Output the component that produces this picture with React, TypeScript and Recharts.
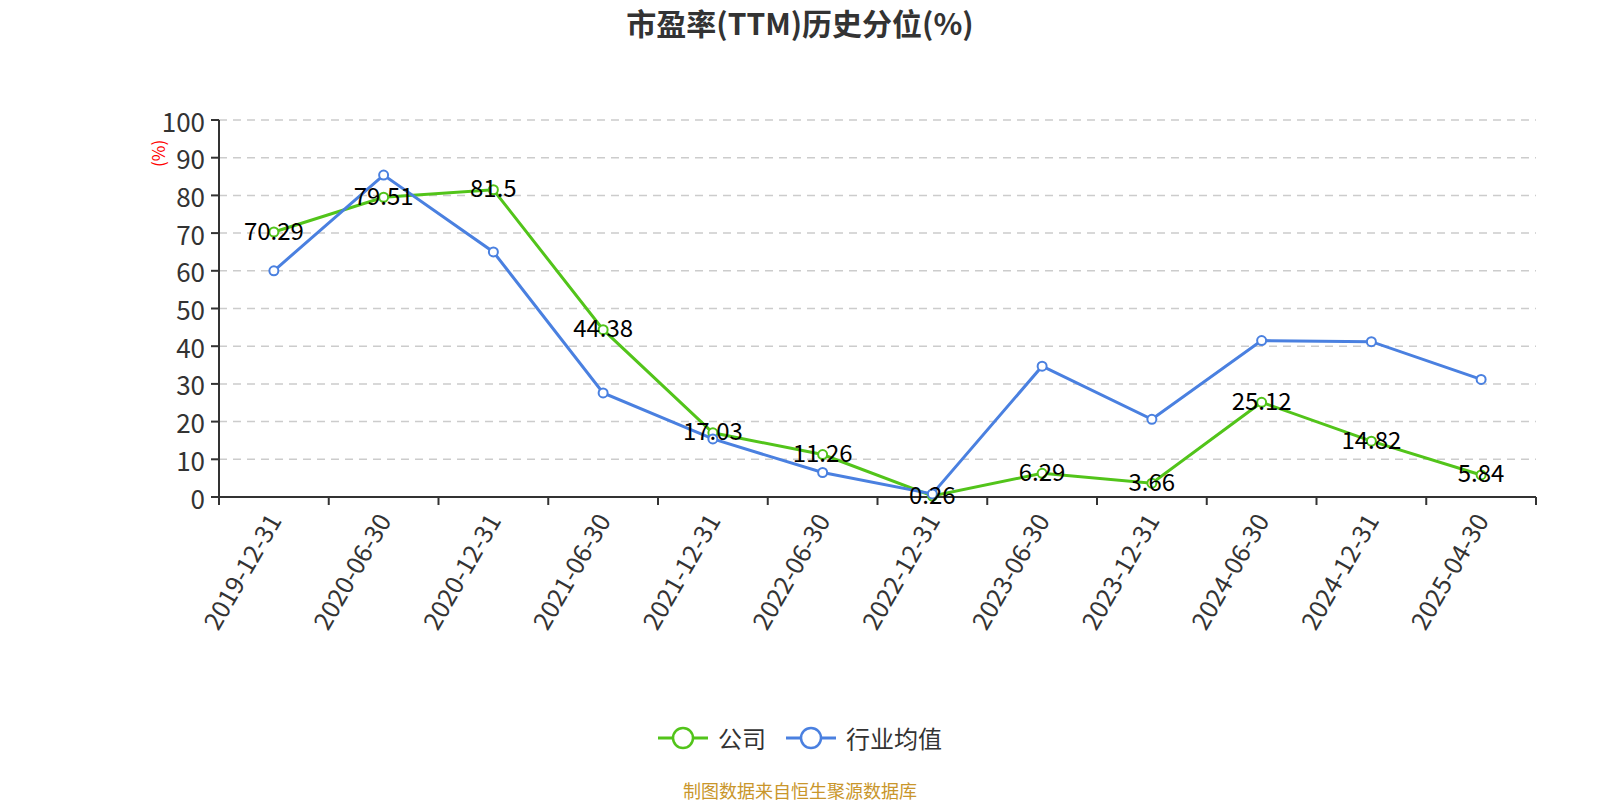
import { LineChart, Line, XAxis, YAxis, CartesianGrid, LabelList, Legend } from 'recharts'

const dates = [
  '2019-12-31', '2020-06-30', '2020-12-31', '2021-06-30', '2021-12-31', '2022-06-30',
  '2022-12-31', '2023-06-30', '2023-12-31', '2024-06-30', '2024-12-31', '2025-04-30',
]
const company = [70.29, 79.51, 81.5, 44.38, 17.03, 11.26, 0.26, 6.29, 3.66, 25.12, 14.82, 5.84]
const industry = [60, 85.4, 65, 27.6, 15.4, 6.5, 0.8, 34.7, 20.6, 41.5, 41.2, 31.2]
const yTicks = [0, 10, 20, 30, 40, 50, 60, 70, 80, 90, 100]

const GREEN = '#52c41a'
const BLUE = '#4a80e0'
const FONT = '"Noto Sans CJK SC", "Noto Sans", sans-serif'

const W = 1600
const H = 800
const xAxisHeight = 140
// plot area: x 219..1536, y 120..497
const margin = { top: 120, right: 64, bottom: 800 - 497 - xAxisHeight, left: 0 }
const yAxisWidth = 219
const bandWidth = (W - margin.left - margin.right - yAxisWidth) / dates.length

const data = dates.map((d, i) => ({ date: d, company: company[i], industry: industry[i] }))

const XTick = ({ x, y, payload, index }: any) => {
  const last = index === dates.length - 1
  const tx = x - 1
  const ty = y + 10
  return (
    <g>
      <line x1={x - bandWidth / 2} y1={y - 8} x2={x - bandWidth / 2} y2={y} stroke="#333" strokeWidth={2} />
      {last && (
        <line x1={x + bandWidth / 2} y1={y - 8} x2={x + bandWidth / 2} y2={y} stroke="#333" strokeWidth={2} />
      )}
      <text
        x={tx}
        y={ty}
        transform={`rotate(-60, ${tx}, ${ty})`}
        textAnchor="end"
        dominantBaseline="central"
        fontSize={25}
        fill="#333"
        fontFamily={FONT}
      >
        {payload.value}
      </text>
    </g>
  )
}

const YTick = ({ x, y, payload }: any) => (
  <text x={x} y={y} textAnchor="end" dominantBaseline="central" fontSize={26} fill="#333" fontFamily={FONT}>
    {payload.value}
  </text>
)

const PointLabel = ({ x, y, value }: any) => (
  <text x={x} y={y - 3} textAnchor="middle" dominantBaseline="central" fontSize={24} fill="#000" fontFamily={FONT}>
    {value}
  </text>
)

const LegendContent = () => (
  <div
    style={{
      display: 'flex',
      justifyContent: 'center',
      alignItems: 'center',
      fontFamily: FONT,
      fontSize: 24,
      lineHeight: '30px',
      color: '#333',
    }}
  >
    {[
      { name: '公司', color: GREEN },
      { name: '行业均值', color: BLUE },
    ].map((it) => (
      <div key={it.name} style={{ display: 'flex', alignItems: 'center', margin: '0 10px' }}>
        <svg width={50} height={26}>
          <line x1={0} y1={13} x2={50} y2={13} stroke={it.color} strokeWidth={3} />
          <circle cx={25} cy={13} r={10} fill="#fff" stroke={it.color} strokeWidth={2.5} />
        </svg>
        <span style={{ marginLeft: 10 }}>{it.name}</span>
      </div>
    ))}
  </div>
)

export default function App() {
  return (
    <div style={{ position: 'absolute', left: 0, top: 0, width: W, height: H, background: '#fff' }}>
      <div
        style={{
          position: 'absolute',
          top: 4,
          left: 0,
          width: W,
          textAlign: 'center',
          fontFamily: FONT,
          fontWeight: 'bold',
          fontSize: 30,
          lineHeight: '36px',
          color: '#333',
        }}
      >
        市盈率(TTM)历史分位(%)
      </div>
      <LineChart width={W} height={H} data={data} margin={margin}>
        <CartesianGrid vertical={false} stroke="#ccc" strokeDasharray="8 6" strokeWidth={1.5} />
        <XAxis
          dataKey="date"
          scale="band"
          interval={0}
          tickLine={false}
          axisLine={{ stroke: '#333', strokeWidth: 2 }}
          tick={<XTick />}
          height={xAxisHeight}
        />
        <YAxis
          domain={[0, 100]}
          ticks={yTicks}
          width={yAxisWidth}
          interval={0}
          tickSize={8}
          tickMargin={6}
          axisLine={{ stroke: '#333', strokeWidth: 2 }}
          tickLine={{ stroke: '#333', strokeWidth: 2 }}
          tick={<YTick />}
          label={{
            value: '(%)',
            angle: -90,
            position: 'insideTopLeft',
            dx: 148,
            dy: 42,
            fill: 'red',
            fontSize: 17,
            fontFamily: FONT,
          }}
        />
        <Legend
          layout="horizontal"
          verticalAlign="middle"
          align="center"
          content={<LegendContent />}
          wrapperStyle={{ position: 'absolute', top: 723, left: 0, width: W, height: 30 }}
        />
        <Line
          type="linear"
          dataKey="company"
          name="公司"
          stroke={GREEN}
          strokeWidth={3}
          dot={{ r: 4.5, fill: '#fff', stroke: GREEN, strokeWidth: 2 }}
          isAnimationActive={false}
        >
          <LabelList dataKey="company" content={<PointLabel />} />
        </Line>
        <Line
          type="linear"
          dataKey="industry"
          name="行业均值"
          stroke={BLUE}
          strokeWidth={3}
          dot={{ r: 4.5, fill: '#fff', stroke: BLUE, strokeWidth: 2 }}
          isAnimationActive={false}
        />
      </LineChart>
      <div
        style={{
          position: 'absolute',
          top: 778,
          left: 0,
          width: W,
          textAlign: 'center',
          fontFamily: FONT,
          fontSize: 18,
          lineHeight: '24px',
          color: '#c9962b',
        }}
      >
        制图数据来自恒生聚源数据库
      </div>
    </div>
  )
}
